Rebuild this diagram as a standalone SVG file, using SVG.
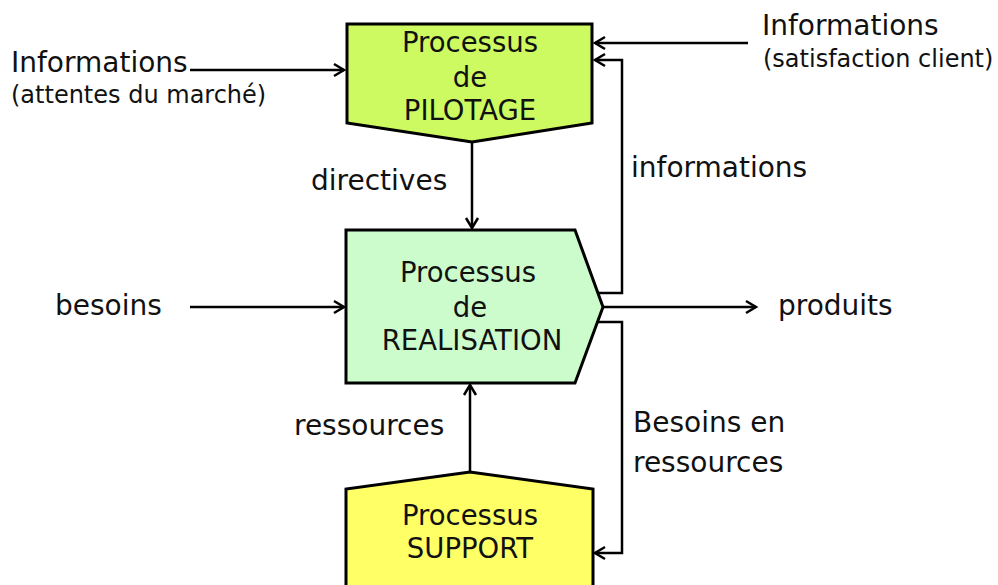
<svg xmlns="http://www.w3.org/2000/svg" width="998" height="585" viewBox="0 0 998 585">
<defs>
<style>
text{font-family:"DejaVu Sans","Verdana",sans-serif;fill:#111}
.box{stroke:#000;stroke-width:3;stroke-linejoin:miter}
.t{font-size:27.5px;text-anchor:middle}
.l{font-size:28px}
.s{font-size:24px}
.c{fill:none;stroke:#000;stroke-width:2.5}
</style>
<marker id="ar" markerUnits="userSpaceOnUse" markerWidth="16" markerHeight="16" refX="13" refY="8" orient="auto">
<path d="M3,2 L13,8 L3,14" fill="none" stroke="#000" stroke-width="2.5"/>
</marker>
</defs>
<rect width="998" height="585" fill="#fff"/>
<g id="connectors">
<path class="c" d="M190,70 H344" marker-end="url(#ar)"/>
<path class="c" d="M748,43 H595" marker-end="url(#ar)"/>
<path class="c" d="M598,293 H622 V60 H595" marker-end="url(#ar)"/>
<path class="c" d="M472,143 V228" marker-end="url(#ar)"/>
<path class="c" d="M190,307 H344" marker-end="url(#ar)"/>
<path class="c" d="M603,307 H756" marker-end="url(#ar)"/>
<path class="c" d="M470,472 V385" marker-end="url(#ar)"/>
<path class="c" d="M598,322 H622 V553 H595" marker-end="url(#ar)"/>
</g>
<g id="pilotage">
<path class="box" fill="#ccfa60" d="M347,24 H592 V123 L472,142 L347,123 Z"/>
<text class="t" x="470" y="52">Processus</text>
<text class="t" x="470" y="87">de</text>
<text class="t" x="470" y="120">PILOTAGE</text>
</g>
<g id="realisation">
<path class="box" fill="#ccfccc" d="M346,230 H575 L603,307 L575,383 H346 Z"/>
<text class="t" x="468" y="282">Processus</text>
<text class="t" x="470" y="317">de</text>
<text class="t" x="472" y="350">REALISATION</text>
</g>
<g id="support">
<path class="box" fill="#ffff66" d="M346,590 V489 L470,472 L593,489 V590"/>
<text class="t" x="470" y="525">Processus</text>
<text class="t" x="470" y="558">SUPPORT</text>
</g>
<g id="labels">
<text class="l" x="11" y="72">Informations</text>
<text class="s" x="11" y="103">(attentes du marché)</text>
<text class="l" x="762" y="35">Informations</text>
<text class="s" x="763" y="67">(satisfaction client)</text>
<text class="l" x="311" y="190">directives</text>
<text class="l" x="631" y="177">informations</text>
<text class="l" x="55" y="315">besoins</text>
<text class="l" x="778" y="315">produits</text>
<text class="l" x="294" y="435">ressources</text>
<text class="l" x="633" y="432">Besoins en</text>
<text class="l" x="633" y="472">ressources</text>
</g>
</svg>
